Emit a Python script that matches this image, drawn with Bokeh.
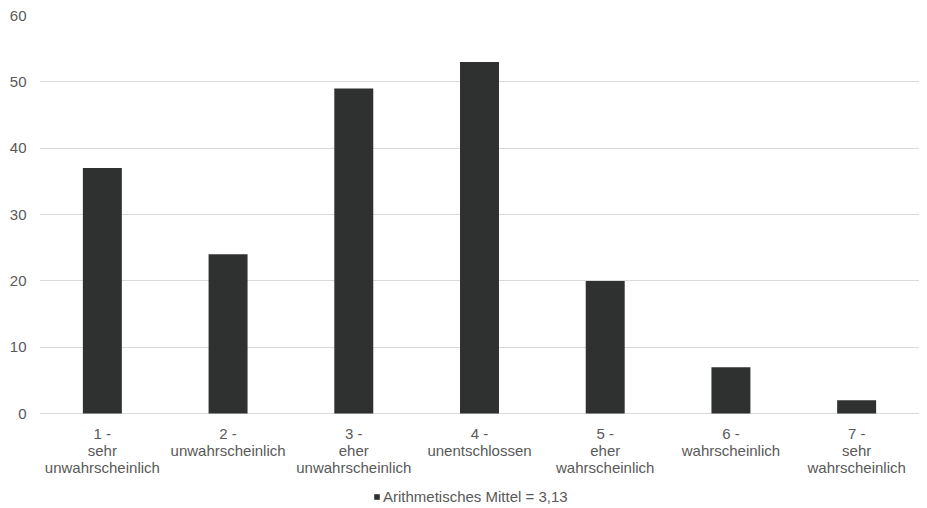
from bokeh.plotting import figure
from bokeh.models import Legend, LegendItem, Range1d, ColumnDataSource, FixedTicker
from bokeh.core.properties import value
from bokeh.embed import file_html
from bokeh.resources import INLINE

categories = ["1", "2", "3", "4", "5", "6", "7"]
cat_labels = ["1 -\nsehr\nunwahrscheinlich", "2 -\nunwahrscheinlich", "3 -\neher\nunwahrscheinlich",
              "4 -\nunentschlossen", "5 -\neher\nwahrscheinlich", "6 -\nwahrscheinlich",
              "7 -\nsehr\nwahrscheinlich"]
counts = [37, 24, 49, 53, 20, 7, 2]
y_ticks = [0, 10, 20, 30, 40, 50, 60]
legend_label = "Arithmetisches Mittel = 3,13"

src = ColumnDataSource(dict(cat=categories, val=counts, lab=cat_labels, base=[0] * len(categories)))

FONT = "Liberation Sans"
GREY = "#595959"

# frame extends below zero so the category labels and legend sit inside it
p = figure(x_range=categories, y_range=Range1d(-14.3, 60), frame_width=880, frame_height=493,
           output_backend="svg", toolbar_location=None, x_axis_location=None,
           min_border_left=39, min_border_right=0, min_border_top=15, min_border_bottom=0)
p.outline_line_color = None
p.background_fill_color = "white"
p.border_fill_color = "white"

r = p.vbar(x="cat", top="val", width=0.31, source=src, fill_color="#2f3030", line_color=None)

p.text(x="cat", y="base", text="lab", source=src, y_offset=11,
       text_align="center", text_baseline="top", text_font=value(FONT),
       text_font_size="15px", text_color=GREY, text_line_height=1.0)

p.yaxis.ticker = FixedTicker(ticks=y_ticks)
p.yaxis.axis_line_color = None
p.yaxis.major_tick_line_color = None
p.yaxis.minor_tick_line_color = None
p.yaxis.major_label_text_font = FONT
p.yaxis.major_label_text_font_size = "15px"
p.yaxis.major_label_text_color = GREY
p.yaxis.major_label_standoff = 7

for g in p.grid:
    if g.dimension == 0:
        g.grid_line_color = None
        g.visible = False
    else:
        g.ticker = FixedTicker(ticks=y_ticks)
        g.grid_line_color = "#d9d9d9"
        g.grid_line_width = 1

legend = Legend(items=[LegendItem(label=legend_label, renderers=[r])],
                location=(334, 3), orientation="horizontal",
                glyph_width=7, glyph_height=7, label_standoff=3, label_height=15,
                label_text_font=FONT, label_text_font_size="15px", label_text_color=GREY,
                border_line_color=None, background_fill_alpha=0, padding=0, margin=0)
p.add_layout(legend, "center")

open("out.html", "w").write(file_html(p, INLINE))
